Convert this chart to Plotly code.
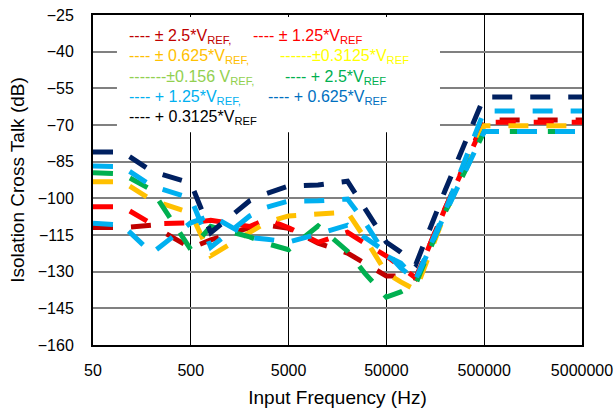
import plotly.graph_objects as go

# Input frequency sample points (Hz)
freq = [50, 100, 200, 500, 800, 2000, 3000, 5000, 10000, 20000, 30000, 50000,
        70000, 100000, 200000, 500000, 1000000, 2000000, 5000000]

# Isolation cross talk (dB), one list per input range
pm_2p5 = [-111.9, -112, -111, -120.3, -117, -112, -111, -112.3, -118.3, -122.4, -126.5,
          -131.8, -131.8, -132.6, -104, -68, -68, -68, -68]
pm_1p25 = [-103.4, -103.4, -110.5, -110, -109, -111.5, -108.5, -112, -118, -113.9, -118.3,
           -123.6, -128, -132.6, -104, -68.9, -68.9, -68.9, -68.9]
pm_0p625 = [-93.2, -93.2, -100.7, -106, -123.5, -113.8, -109.7, -107.2, -106.4, -105.6, -116.2,
            -130.6, -134.2, -137.5, -106, -70.3, -70.3, -70.3, -70.3]
p_2p5 = [-89.5, -90, -96.6, -121, -111.5, -115.8, -118.5, -121, -111.3, -121.6, -130.6,
         -140.4, -138.3, -135, -105.5, -72.7, -72.7, -72.7, -72.7]
p_0p625 = [-110.2, -111, -122.4, -110, -107, -116, -116.7, -117.9, -114.6, -111, -116,
           -122, -128.5, -133.4, -106, -72.7, -72.7, -72.7, -72.7]
p_1p25 = [-86.8, -87, -95, -99.9, -120, -107.2, -103.6, -101.1, -101, -100.3, -109.7,
          -123.6, -126.5, -133, -105, -64.3, -64.3, -64.3, -64.3]
p_0p3125 = [-81, -81, -89, -93.7, -114, -101, -98, -95, -94.5, -93, -104,
            -118, -122, -127, -96.6, -58.5, -58.5, -58.5, -58.5]

x_ticks = [50, 500, 5000, 50000, 500000, 5000000]
y_ticks = [-160, -145, -130, -115, -100, -85, -70, -55, -40, -25]

series = [
    (pm_2p5, "#C00000"),
    (pm_1p25, "#FF0000"),
    (pm_0p625, "#FFC000"),
    (p_2p5, "#00B050"),
    (p_0p625, "#00B0F0"),
    (p_1p25, "#00B0F0"),
    (p_0p3125, "#002060"),
]

FONT = "Arial, Liberation Sans, sans-serif"

fig = go.Figure()
for vals, col in series:
    fig.add_trace(go.Scatter(
        x=freq, y=vals, mode="lines", showlegend=False,
        line=dict(color=col, width=5, dash="20px,18px")
    ))

# legend box drawn by hand (white patch over the grid + coloured text)
fig.add_shape(type="rect", xref="paper", yref="paper", x0=0.049, x1=0.7096, y0=0.645, y1=0.994,
              fillcolor="white", line=dict(width=0), layer="above")

legend_rows = [
    (0.936, 0.0695, "---- ± 2.5*V<sub>REF,</sub>", "#C00000"),
    (0.936, 0.323, "---- ± 1.25*V<sub>REF</sub>", "#FF0000"),
    (0.874, 0.0695, "---- ± 0.625*V<sub>REF,</sub>", "#FFC000"),
    (0.874, 0.378, "------±0.3125*V<sub>REF</sub>", "#FFFF00"),
    (0.812, 0.0695, "-------±0.156 V<sub>REF,</sub>", "#92D050"),
    (0.812, 0.389, "---- + 2.5*V<sub>REF</sub>", "#00B050"),
    (0.750, 0.0695, "---- + 1.25*V<sub>REF,</sub>", "#00B0F0"),
    (0.750, 0.354, "---- + 0.625*V<sub>REF</sub>", "#0070C0"),
    (0.688, 0.0695, "---- + 0.3125*V<sub>REF</sub>", "#000000"),
]
for yy, xx, txt, col in legend_rows:
    fig.add_annotation(x=xx, y=yy, xref="paper", yref="paper", text=txt, showarrow=False,
                       xanchor="left", yanchor="middle", font=dict(family=FONT, size=16, color=col))

fig.update_layout(
    width=616, height=408,
    margin=dict(l=93, r=34, t=15, b=63),
    plot_bgcolor="white", paper_bgcolor="white",
    font=dict(family=FONT, size=16, color="black"),
    xaxis=dict(
        type="log", range=[1.69897, 6.69897], automargin=False,
        tickvals=x_ticks, ticktext=[str(v) for v in x_ticks],
        showgrid=True, gridcolor="black", gridwidth=1,
        showline=True, linecolor="black", linewidth=2, mirror=True,
        ticks="", ticklabelstandoff=10,
        title=dict(text="Input Frequency (Hz)", standoff=12),
    ),
    yaxis=dict(
        range=[-160, -25], tickvals=y_ticks, automargin=False,
        showgrid=True, gridcolor="#808080", gridwidth=1.5, zeroline=False,
        showline=True, linecolor="black", linewidth=2, mirror=True,
        ticks="", ticklabelstandoff=14,
        title=dict(text="Isolation Cross Talk (dB)", standoff=8),
    ),
)

fig.write_html("out.html", config={"displayModeBar": False},
               post_script="document.body.style.margin='0';")
